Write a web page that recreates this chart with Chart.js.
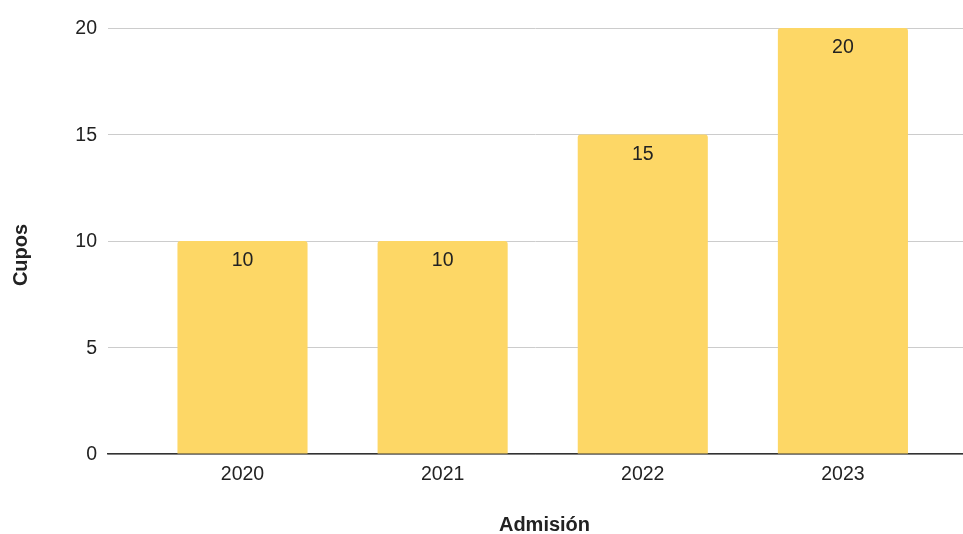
<!DOCTYPE html>
<html>
<head>
<meta charset="utf-8">
<script src="https://cdn.jsdelivr.net/npm/chart.js@4/dist/chart.umd.min.js"></script>
<style>
  html, body { margin: 0; padding: 0; background: #fff; }
  #wrap { width: 963px; height: 534px; }
</style>
</head>
<body>
<div id="wrap"><canvas id="chart"></canvas></div>
<script>
// data
const years = ['2020', '2021', '2022', '2023'];
const cupos = [10, 10, 15, 20];
const yTicks = [0, 5, 10, 15, 20];
const xTitle = 'Admisión';
const yTitle = 'Cupos';

const barColor = '#fdd766';
const textColor = '#222222';
const fontFamily = '"Liberation Sans", Arial, sans-serif';

// value labels inside the top of each bar, plus the two axis titles
const barLabels = {
    id: 'barLabels',
    afterDatasetsDraw(chart) {
        const ctx = chart.ctx;
        const meta = chart.getDatasetMeta(0);
        const area = chart.chartArea;
        ctx.save();
        ctx.font = '19.5px ' + fontFamily;
        ctx.fillStyle = textColor;
        ctx.textAlign = 'center';
        ctx.textBaseline = 'middle';
        meta.data.forEach((bar, i) => {
            ctx.fillText(String(cupos[i]), bar.x, bar.y + 20);
        });

        ctx.font = 'bold 20px ' + fontFamily;
        ctx.fillText(xTitle, area.left + (area.right - area.left) / 2 + 9, 525);

        ctx.translate(21, area.top + (area.bottom - area.top) / 2 + 14);
        ctx.rotate(-Math.PI / 2);
        ctx.fillText(yTitle, 0, 0);
        ctx.restore();
    }
};

new Chart(document.getElementById('chart'), {
    type: 'bar',
    data: {
        datasets: [{
            data: cupos.map((v, i) => ({ x: i, y: v })),
            backgroundColor: barColor,
            borderRadius: { topLeft: 3, topRight: 3 },
            borderSkipped: 'bottom',
            barPercentage: 0.65,
            categoryPercentage: 1
        }]
    },
    options: {
        responsive: true,
        maintainAspectRatio: false,
        animation: false,
        layout: { padding: { top: 28, right: 0, left: 0, bottom: 0 } },
        plugins: {
            legend: { display: false },
            tooltip: { enabled: false }
        },
        scales: {
            x: {
                type: 'linear',
                offset: false,
                min: -0.672,
                max: 3.6,
                afterBuildTicks(scale) {
                    scale.ticks = years.map((y, i) => ({ value: i }));
                },
                afterFit(scale) { scale.height = 80; },
                grid: { display: false, drawTicks: false, offset: false },
                border: { display: true, color: '#333333', width: 1.5 },
                ticks: {
                    callback: (v) => years[v] ?? '',
                    color: textColor,
                    font: { family: fontFamily, size: 19.5 },
                    padding: 9,
                    maxRotation: 0
                }
            },
            y: {
                min: 0,
                max: 20,
                afterBuildTicks(scale) {
                    scale.ticks = yTicks.map(v => ({ value: v }));
                },
                afterFit(scale) { scale.width = 108; },
                grid: { color: '#cccccc', lineWidth: 1, drawTicks: false },
                border: { display: false },
                ticks: {
                    color: textColor,
                    font: { family: fontFamily, size: 19.5 },
                    padding: 11,
                    labelOffset: 1
                }
            }
        }
    },
    plugins: [barLabels]
});
</script>
</body>
</html>
